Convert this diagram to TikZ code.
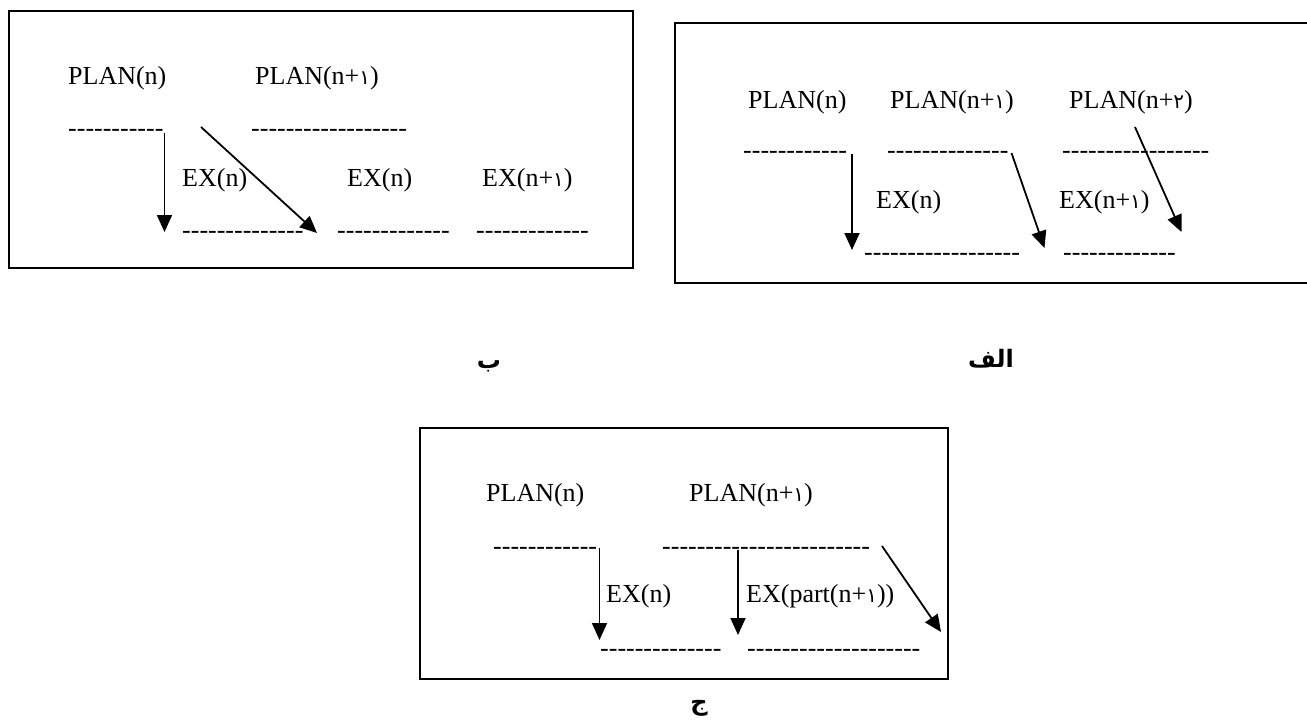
\documentclass[tikz,border=0pt]{standalone}
\usepackage{fontspec}
\setmainfont{Liberation Serif}
\newfontfamily\arabicfont[Script=Arabic]{DejaVu Sans}
\TeXXeTstate=1
\usetikzlibrary{arrows.meta}
\newcommand\arabdig[1]{{\arabicfont\fontsize{20}{24}\selectfont #1}}
\newcommand\hyrow[1]{\foreach \i in {1,...,#1}{-\kern0pt}}
\tikzset{
  txt/.style={anchor=base west, inner sep=0pt, font=\fontsize{26}{30}\selectfont},
  frame/.style={draw, line width=2.3pt},
  arr/.style={draw, line width=1.8pt, -{Triangle[length=17pt,width=15pt]}},
  lab/.style={inner sep=0pt, font=\arabicfont\bfseries\fontsize{24}{28}\selectfont}
}
\begin{document}
\begin{tikzpicture}[x=1pt,y=-1pt]
\useasboundingbox (0,0) rectangle (1307,724);
% ---------- box B (left) ----------
\draw[frame] (9,11) rectangle (633,268);
\node[txt] (bp1) at (68,84) {PLAN(n)};
\node[txt] (bp2) at (255,84) {PLAN(n+\arabdig{١})};
\node[txt] (bd1) at (68,136) {\hyrow{11}};
\node[txt] (bd2) at (251,136) {\hyrow{18}};
\node[txt] (be1) at (182,186) {EX(n)};
\node[txt] (be2) at (347,186) {EX(n)};
\node[txt] (be3) at (482,186) {EX(n+\arabdig{١})};
\node[txt] (bd3) at (182,238) {\hyrow{14}};
\node[txt] (bd4) at (337,238) {\hyrow{13}};
\node[txt] (bd5) at (476,238) {\hyrow{13}};
\coordinate (bv1) at (164.5,133);
\coordinate (bv2) at (164.5,232);
\coordinate (bg1) at (201,127);
\coordinate (bg2) at (317,233);
\draw[arr] (bv1) -- (bv2);
\draw[arr] (bg1) -- (bg2);
% ---------- box alef (right) ----------
\draw[frame] (1307,23) -| (675,283) -- (1307,283);
\node[txt] (ap1) at (748,108) {PLAN(n)};
\node[txt] (ap2) at (890,108) {PLAN(n+\arabdig{١})};
\node[txt] (ap3) at (1069,108) {PLAN(n+\arabdig{٢})};
\node[txt] (ad1) at (743,158) {\hyrow{12}};
\node[txt] (ad2) at (887,158) {\hyrow{14}};
\node[txt] (ad3) at (1062,158) {\hyrow{17}};
\node[txt] (ae1) at (876,208) {EX(n)};
\node[txt] (ae2) at (1059,208) {EX(n+\arabdig{١})};
\node[txt] (ad4) at (864,260) {\hyrow{18}};
\node[txt] (ad5) at (1063,260) {\hyrow{13}};
\coordinate (av1) at (852,154);
\coordinate (av2) at (852,250);
\coordinate (ag1) at (1011.5,153);
\coordinate (ag2) at (1044.5,248);
\coordinate (ah1) at (1135,127);
\coordinate (ah2) at (1181.5,232);
\draw[arr] (av1) -- (av2);
\draw[arr] (ag1) -- (ag2);
\draw[arr] (ah1) -- (ah2);
% ---------- box jim (bottom) ----------
\draw[frame] (420,428) rectangle (948,679);
\node[txt] (cp1) at (486,501) {PLAN(n)};
\node[txt] (cp2) at (689,501) {PLAN(n+\arabdig{١})};
\node[txt] (cd1) at (493,554) {\hyrow{12}};
\node[txt] (cd2) at (662,554) {\hyrow{24}};
\node[txt] (ce1) at (606,602) {EX(n)};
\node[txt] (ce2) at (746,602) {EX(part(n+\arabdig{١}))};
\node[txt] (cd3) at (600,656) {\hyrow{14}};
\node[txt] (cd4) at (747,656) {\hyrow{20}};
\coordinate (cv1) at (599.5,548);
\coordinate (cv2) at (599.5,640);
\coordinate (cw1) at (738,550);
\coordinate (cw2) at (738,635);
\coordinate (cg1) at (882,546);
\coordinate (cg2) at (941,632);
\draw[arr] (cv1) -- (cv2);
\draw[arr] (cw1) -- (cw2);
\draw[arr] (cg1) -- (cg2);
% ---------- captions ----------
\node[lab, anchor=base] (lb) at (489,368) {\beginR ب\endR};
\node[lab, anchor=base] (la) at (991,367) {\beginR الف\endR};
\node[lab, anchor=base] (lc) at (699,710) {\beginR ج\endR};
\end{tikzpicture}
\end{document}
